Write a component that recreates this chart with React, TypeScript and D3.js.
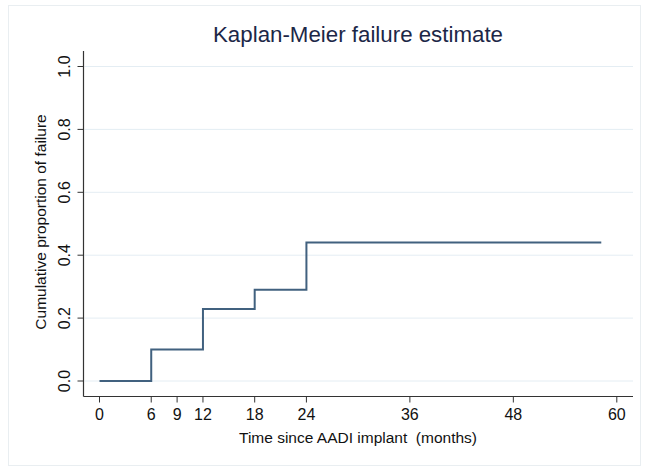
import React from "react";
import * as d3 from "d3";

const stepTimes = [0, 6, 12, 18, 24];
const stepValues = [0, 0.1, 0.229, 0.29, 0.44];
const endTime = 58.2;
const xTicks = [0, 6, 9, 12, 18, 24, 36, 48, 60];
const yTicks = [0, 0.2, 0.4, 0.6, 0.8, 1.0];
const title = "Kaplan-Meier failure estimate";
const xTitle = "Time since AADI implant  (months)";
const yTitle = "Cumulative proportion of failure";

export default function App() {
  const W = 651, H = 466;
  const x = d3.scaleLinear().domain([0, 60]).range([99.5, 616.8]);
  const y = d3.scaleLinear().domain([0, 1]).range([381, 66.5]);
  const axisX = 83.5, axisY = 396.5, plotTop = 51, plotRight = 633;
  const pts: [number, number][] = stepTimes.map((t, i) => [t, stepValues[i]]);
  pts.push([endTime, stepValues[stepValues.length - 1]]);
  const line = d3
    .line<[number, number]>()
    .x((d) => x(d[0]))
    .y((d) => y(d[1]))
    .curve(d3.curveStepAfter);
  const font = "'Liberation Sans', Arial, Helvetica, sans-serif";
  return (
    <svg
      width={W}
      height={H}
      style={{ position: "absolute", left: 0, top: 0, background: "#fff" }}
      fontFamily={font}
    >
      <rect x={0} y={0} width={W} height={H} fill="#fff" />
      <rect x={8.5} y={5.5} width={632} height={460} fill="#fff" stroke="#e9eef1" strokeWidth={1} />
      {yTicks.map((v) => (
        <line key={"g" + v} x1={axisX + 1} x2={plotRight} y1={y(v)} y2={y(v)} stroke="#e4edf3" strokeWidth={1} />
      ))}
      <path d={line(pts) || ""} fill="none" stroke="#41617f" strokeWidth={2} />
      <line x1={axisX} x2={axisX} y1={plotTop} y2={axisY} stroke="#333" strokeWidth={1.2} />
      <line x1={axisX} x2={plotRight} y1={axisY} y2={axisY} stroke="#333" strokeWidth={1.2} />
      {yTicks.map((v) => (
        <g key={"y" + v}>
          <line x1={axisX - 6} x2={axisX} y1={y(v)} y2={y(v)} stroke="#333" strokeWidth={1} />
          <text
            transform={`translate(${69.5},${y(v)}) rotate(-90)`}
            textAnchor="middle"
            fontSize={16}
            fill="#111"
          >
            {v.toFixed(1)}
          </text>
        </g>
      ))}
      {xTicks.map((v) => (
        <g key={"x" + v}>
          <line x1={x(v)} x2={x(v)} y1={axisY} y2={axisY + 6} stroke="#333" strokeWidth={1} />
          <text x={x(v)} y={420} textAnchor="middle" fontSize={16} fill="#111">
            {v}
          </text>
        </g>
      ))}
      <text x={358} y={443} textAnchor="middle" fontSize={15.5} fill="#111" style={{ whiteSpace: "pre" }}>
        {xTitle}
      </text>
      <text
        transform={`translate(${45.5},${222}) rotate(-90)`}
        textAnchor="middle"
        fontSize={15.5}
        fill="#111"
      >
        {yTitle}
      </text>
      <text x={358} y={42} textAnchor="middle" fontSize={22.3} fill="#1c2747">
        {title}
      </text>
    </svg>
  );
}
